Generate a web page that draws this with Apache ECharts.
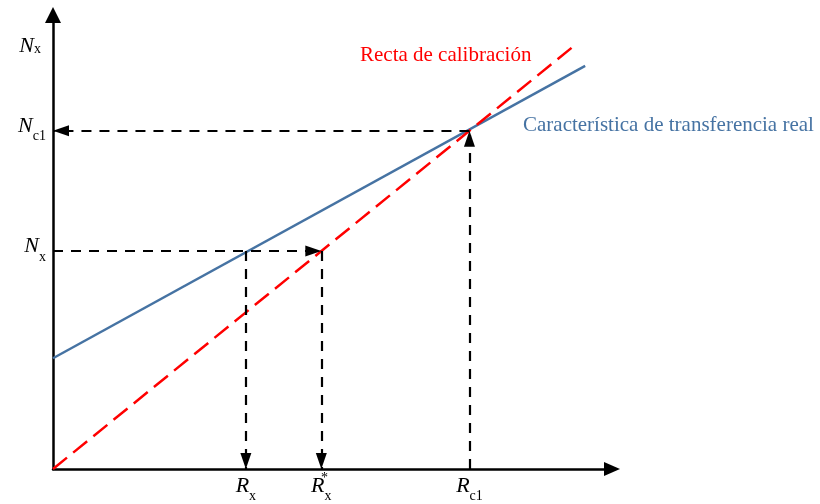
<!DOCTYPE html>
<html>
<head>
<meta charset="utf-8">
<script src="https://cdn.jsdelivr.net/npm/echarts@6/dist/echarts.min.js"></script>
<style>
  html, body { margin: 0; padding: 0; background: #ffffff; }
  #chart { width: 820px; height: 504px; }
</style>
</head>
<body>
<div id="chart"></div>
<script>
// Ideal calibration line and real transfer characteristic (arbitrary units)
const calibrationLine = [[0, 0], [9.3, 9.3]];
const realCharacteristic = [[0, 2.44], [9.52, 8.88]];

// Reference readings on the axes
const Rx = 3.45;
const RxStar = 4.8;
const Rc1 = 7.45;
const Nx = 4.8;
const Nc1 = 7.45;

const xTickValues = [Rx, RxStar, Rc1];
const xTickLabels = ['{m|R}{s|x}', '{m|R}{st|*}{s|x}', '{m|R}{s|c1}'];
const yTickValues = [Nx, Nc1];
const yTickLabels = ['{m|N}{s|x}', '{m|N}{s|c1}'];
const yAxisTitle = '{m|N}{s|x}';

const SERIF = '"Liberation Serif", "Times New Roman", serif';
const BLUE = '#4673a3';
const RED = '#ff0000';

function pickLabel(values, labels, v) {
  let best = 0;
  for (let i = 1; i < values.length; i++) {
    if (Math.abs(values[i] - v) < Math.abs(values[best] - v)) best = i;
  }
  return labels[best];
}

const xRich = {
  m:  { fontFamily: SERIF, fontStyle: 'italic', fontSize: 22, lineHeight: 22, color: '#000' },
  s:  { fontFamily: SERIF, fontSize: 14, lineHeight: 22, padding: [20, 0, 0, 0], color: '#000' },
  st: { fontFamily: SERIF, fontSize: 14, lineHeight: 22, padding: [0, 0, 15, 0], width: 0, color: '#000' }
};
const yRich = {
  m: { fontFamily: SERIF, fontStyle: 'italic', fontSize: 22, lineHeight: 22, padding: [0, 0, 10, 0], color: '#000' },
  s: { fontFamily: SERIF, fontSize: 14, lineHeight: 22, padding: [12, 0, 0, 0], color: '#000' }
};
const nameRich = {
  m: { fontFamily: SERIF, fontStyle: 'italic', fontSize: 22, lineHeight: 22, color: '#000' },
  s: { fontFamily: SERIF, fontSize: 14, lineHeight: 22, padding: [6, 0, 0, 0], color: '#000' }
};

// Dashed guide arrows between the curves and the axes
const guideArrows = [
  [{ coord: [Rc1, 0] }, { coord: [Rc1, Nc1] }],
  [{ coord: [Rc1, Nc1] }, { coord: [0, Nc1] }],
  [{ coord: [0, Nx] }, { coord: [RxStar, Nx] }],
  [{ coord: [Rx, Nx] }, { coord: [Rx, 0] }],
  [{ coord: [RxStar, Nx] }, { coord: [RxStar, 0] }]
];

const chart = echarts.init(document.getElementById('chart'), null, { renderer: 'canvas' });
chart.setOption({
  animation: false,
  backgroundColor: '#ffffff',
  grid: { left: 53, right: 208, top: 15, bottom: 35, outerBoundsMode: 'none', containLabel: false },
  xAxis: {
    type: 'value',
    min: 0,
    max: 10,
    axisLine: {
      show: true,
      symbol: ['none', 'triangle'],
      symbolSize: [14, 16],
      lineStyle: { color: '#000', width: 2.5 }
    },
    axisTick: { show: false },
    splitLine: { show: false },
    axisLabel: {
      customValues: xTickValues,
      formatter: v => pickLabel(xTickValues, xTickLabels, v),
      margin: 6,
      rich: xRich
    }
  },
  yAxis: {
    type: 'value',
    min: 0,
    max: 10,
    name: yAxisTitle,
    nameLocation: 'end',
    nameGap: -31,
    nameMoveOverlap: false,
    nameTextStyle: { align: 'right', verticalAlign: 'middle', padding: [0, 12, 0, 0], rich: nameRich },
    axisLine: {
      show: true,
      symbol: ['none', 'triangle'],
      symbolSize: [16, 16],
      lineStyle: { color: '#000', width: 2.5 }
    },
    axisTick: { show: false },
    splitLine: { show: false },
    axisLabel: {
      customValues: yTickValues,
      formatter: v => pickLabel(yTickValues, yTickLabels, v),
      margin: 7,
      rich: yRich
    }
  },
  series: [
    {
      name: 'Característica de transferencia real',
      type: 'line',
      data: realCharacteristic,
      showSymbol: false,
      silent: true,
      z: 3,
      lineStyle: { color: BLUE, width: 2.5 }
    },
    {
      name: 'Recta de calibración',
      type: 'line',
      data: calibrationLine,
      showSymbol: false,
      silent: true,
      z: 4,
      lineStyle: { color: RED, width: 2.5, type: [18, 8] }
    },
    {
      name: 'guides',
      type: 'line',
      data: [],
      silent: true,
      z: 2,
      markLine: {
        silent: true,
        animation: false,
        symbol: ['none', 'triangle'],
        symbolSize: [11, 16],
        symbolOffset: [0, [0, 8]],
        label: { show: false },
        emphasis: { disabled: true },
        lineStyle: { color: '#000', width: 2.2, type: [10, 8] },
        data: guideArrows
      }
    }
  ],
  graphic: [
    {
      type: 'text',
      x: 360,
      y: 55,
      silent: true,
      style: { text: 'Recta de calibración', fill: RED, font: '21px ' + SERIF, verticalAlign: 'middle' }
    },
    {
      type: 'text',
      x: 523,
      y: 125,
      silent: true,
      style: { text: 'Característica de transferencia real', fill: BLUE, font: '21px ' + SERIF, verticalAlign: 'middle' }
    }
  ]
});
</script>
</body>
</html>
